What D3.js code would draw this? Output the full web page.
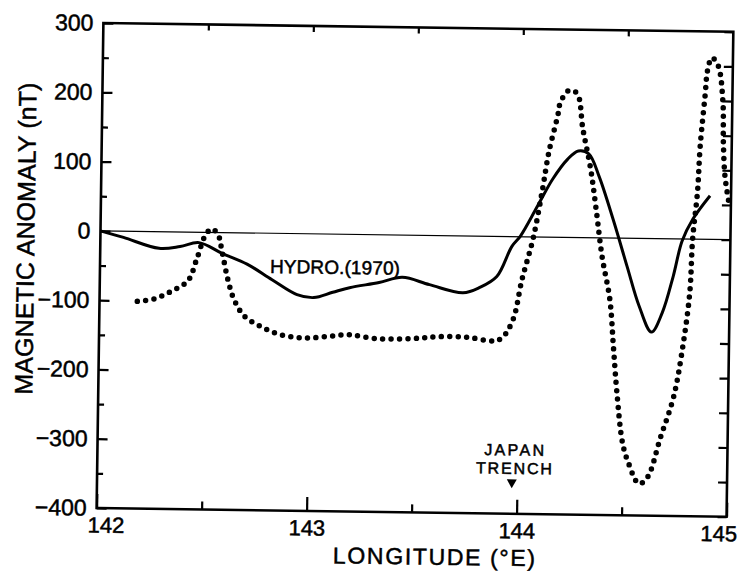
<!DOCTYPE html>
<html>
<head>
<meta charset="utf-8">
<script src="https://cdn.jsdelivr.net/npm/d3@7"></script>
<style>
  body { margin: 0; background: #fff; }
</style>
</head>
<body>
<div id="chart"></div>
<script>
// HYDRO. (1970) profile - solid line
const lonHydro = [142.00, 142.11, 142.28, 142.38, 142.47, 142.58, 142.70, 142.82, 142.94, 143.02,
                  143.11, 143.19, 143.33, 143.44, 143.57, 143.73, 143.81, 143.89, 143.96, 144.00,
                  144.08, 144.15, 144.22, 144.27, 144.32, 144.37, 144.44, 144.51, 144.57, 144.63,
                  144.68, 144.73, 144.77, 144.82, 144.90];
const magHydro = [0, -9, -24, -21, -15, -30, -45, -67, -88, -92,
                  -84, -77, -69, -61, -71, -82, -74, -58, -14, 1,
                  45, 84, 113, 125, 121, 89, 27, -41, -98, -135,
                  -107, -54, -3, 29, 63];

// second profile - dotted line
const lonDots = [142.18, 142.26, 142.34, 142.42, 142.46, 142.50, 142.53, 142.56, 142.58, 142.61,
                 142.64, 142.69, 142.77, 142.85, 142.94, 143.02, 143.11, 143.19, 143.32, 143.50,
                 143.61, 143.75, 143.88, 143.92, 143.97, 144.01, 144.06, 144.10, 144.13, 144.17,
                 144.18, 144.22, 144.26, 144.29, 144.33, 144.36, 144.39, 144.43, 144.45, 144.47,
                 144.50, 144.53, 144.58, 144.62, 144.68, 144.74, 144.78, 144.81, 144.82, 144.84,
                 144.85, 144.87, 144.88, 144.90, 144.93, 144.955, 144.96, 144.97, 144.99];
const magDots = [-101, -97, -86, -70, -39, -4, 5, -3, -27, -68,
                 -96, -120, -135, -145, -150, -150, -147, -145, -150, -149,
                 -146, -146, -151, -146, -120, -62, -3, 65, 123, 176,
                 193, 212, 208, 157, 99, 38, -27, -89, -157, -224,
                 -296, -325, -354, -345, -287, -228, -156, -77, 0, 68,
                 135, 208, 244, 262, 251, 199, 140, 91, 54];

const xMajor = [142, 143, 144, 145];
const xMinor = [142.5, 143.5, 144.5];
const yMajor = [300, 200, 100, 0, -100, -200, -300, -400];
const yMinor = [250, 150, 50, -50, -150, -250, -350];
const trenchLon = 143.975;

const width = 738, height = 572;
const font = "'Liberation Sans', Arial, sans-serif";

const svg = d3.select("#chart").append("svg")
    .attr("width", width)
    .attr("height", height);

// the printed figure sits slightly tilted on the page
const g = svg.append("g")
    .attr("transform", "rotate(0.8, 415, 268)")
    .style("font-family", font);

const x = d3.scaleLinear().domain([142, 145]).range([100, 730]);
const y = d3.scaleLinear().domain([-400, 300]).range([512.4, 27.4]);

const fmt = d => d < 0 ? "\u2212" + Math.abs(d) : String(d);

function clean(sel) {
    sel.select(".domain").remove();
    sel.selectAll(".tick line").attr("stroke", "#000").attr("stroke-width", 2.2);
}

// heavier lettering, like the pen-drawn original
function ink(sel, size) {
    sel.style("font-family", font)
        .style("font-size", size)
        .attr("fill", "#000")
        .attr("stroke", "#000")
        .attr("stroke-width", 0.5);
}

// left axis
g.append("g")
    .attr("transform", `translate(${x(142)},0)`)
    .call(d3.axisLeft(y).tickValues(yMajor).tickSize(-10).tickPadding(10).tickFormat(fmt))
    .call(clean)
    .selectAll("text")
    .call(ink, "23px");

g.append("g")
    .attr("transform", `translate(${x(142)},0)`)
    .call(d3.axisLeft(y).tickValues(yMinor).tickSize(-6).tickFormat(""))
    .call(clean);

// right axis
g.append("g")
    .attr("transform", `translate(${x(145)},0)`)
    .call(d3.axisRight(y).tickValues(yMajor.concat(yMinor)).tickSize(-9).tickFormat(""))
    .call(clean);

// bottom axis
const xAxis = g.append("g")
    .attr("transform", `translate(0,${y(-400)})`)
    .call(d3.axisBottom(x).tickValues(xMajor).tickSize(-14).tickPadding(9).tickFormat(d3.format("d")))
    .call(clean);

xAxis.selectAll("text")
    .call(ink, "22px")
    .attr("dx", d => d === 142 ? 9 : d === 145 ? -8 : 0);

g.append("g")
    .attr("transform", `translate(0,${y(-400)})`)
    .call(d3.axisBottom(x).tickValues(xMinor).tickSize(-8).tickFormat(""))
    .call(clean);

// top axis
g.append("g")
    .attr("transform", `translate(0,${y(300)})`)
    .call(d3.axisTop(x).tickValues(xMinor.concat([143, 144])).tickSize(-6).tickFormat(""))
    .call(clean);

// frame
g.append("rect")
    .attr("x", x(142))
    .attr("y", y(300))
    .attr("width", x(145) - x(142))
    .attr("height", y(-400) - y(300))
    .attr("fill", "none")
    .attr("stroke", "#000")
    .attr("stroke-width", 2.6);

// zero line
g.append("line")
    .attr("x1", x(142)).attr("x2", x(145))
    .attr("y1", y(0)).attr("y2", y(0))
    .attr("stroke", "#000")
    .attr("stroke-width", 1.2);

const line = d3.line()
    .curve(d3.curveCatmullRom.alpha(0.5))
    .x(d => x(d[0]))
    .y(d => y(d[1]));

const hydro = lonHydro.map((d, i) => [d, magHydro[i]]);
const dots = lonDots.map((d, i) => [d, magDots[i]]);

g.append("path")
    .attr("d", line(dots))
    .attr("fill", "none")
    .attr("stroke", "#000")
    .attr("stroke-width", 5.5)
    .attr("stroke-linecap", "round")
    .attr("stroke-dasharray", "0 8.4");

g.append("path")
    .attr("d", line(hydro))
    .attr("fill", "none")
    .attr("stroke", "#000")
    .attr("stroke-width", 3)
    .attr("stroke-linejoin", "round");

// labels
g.append("text")
    .attr("x", 270)
    .attr("y", 275)
    .attr("textLength", 130)
    .attr("lengthAdjust", "spacing")
    .call(ink, "19px")
    .text("HYDRO.(1970)");

const tx = x(trenchLon);
g.append("text")
    .attr("x", tx + 2).attr("y", 454)
    .attr("text-anchor", "middle")
    .call(ink, "16px")
    .attr("textLength", 60)
    .attr("lengthAdjust", "spacing")
    .text("JAPAN");
g.append("text")
    .attr("x", tx + 2).attr("y", 472.5)
    .attr("text-anchor", "middle")
    .call(ink, "16px")
    .attr("textLength", 76)
    .attr("lengthAdjust", "spacing")
    .text("TRENCH");
g.append("path")
    .attr("d", `M${tx - 5},478L${tx + 5},478L${tx},487Z`)
    .attr("fill", "#000");

// axis titles
g.append("text")
    .attr("transform", "translate(34,244) rotate(-90)")
    .attr("text-anchor", "middle")
    .attr("textLength", 312)
    .attr("lengthAdjust", "spacing")
    .call(ink, "25px")
    .text("MAGNETIC ANOMALY (nT)");

g.append("text")
    .attr("x", 438)
    .attr("y", 564.5)
    .attr("text-anchor", "middle")
    .attr("textLength", 202)
    .attr("lengthAdjust", "spacing")
    .call(ink, "23px")
    .text("LONGITUDE (°E)");
</script>
</body>
</html>
